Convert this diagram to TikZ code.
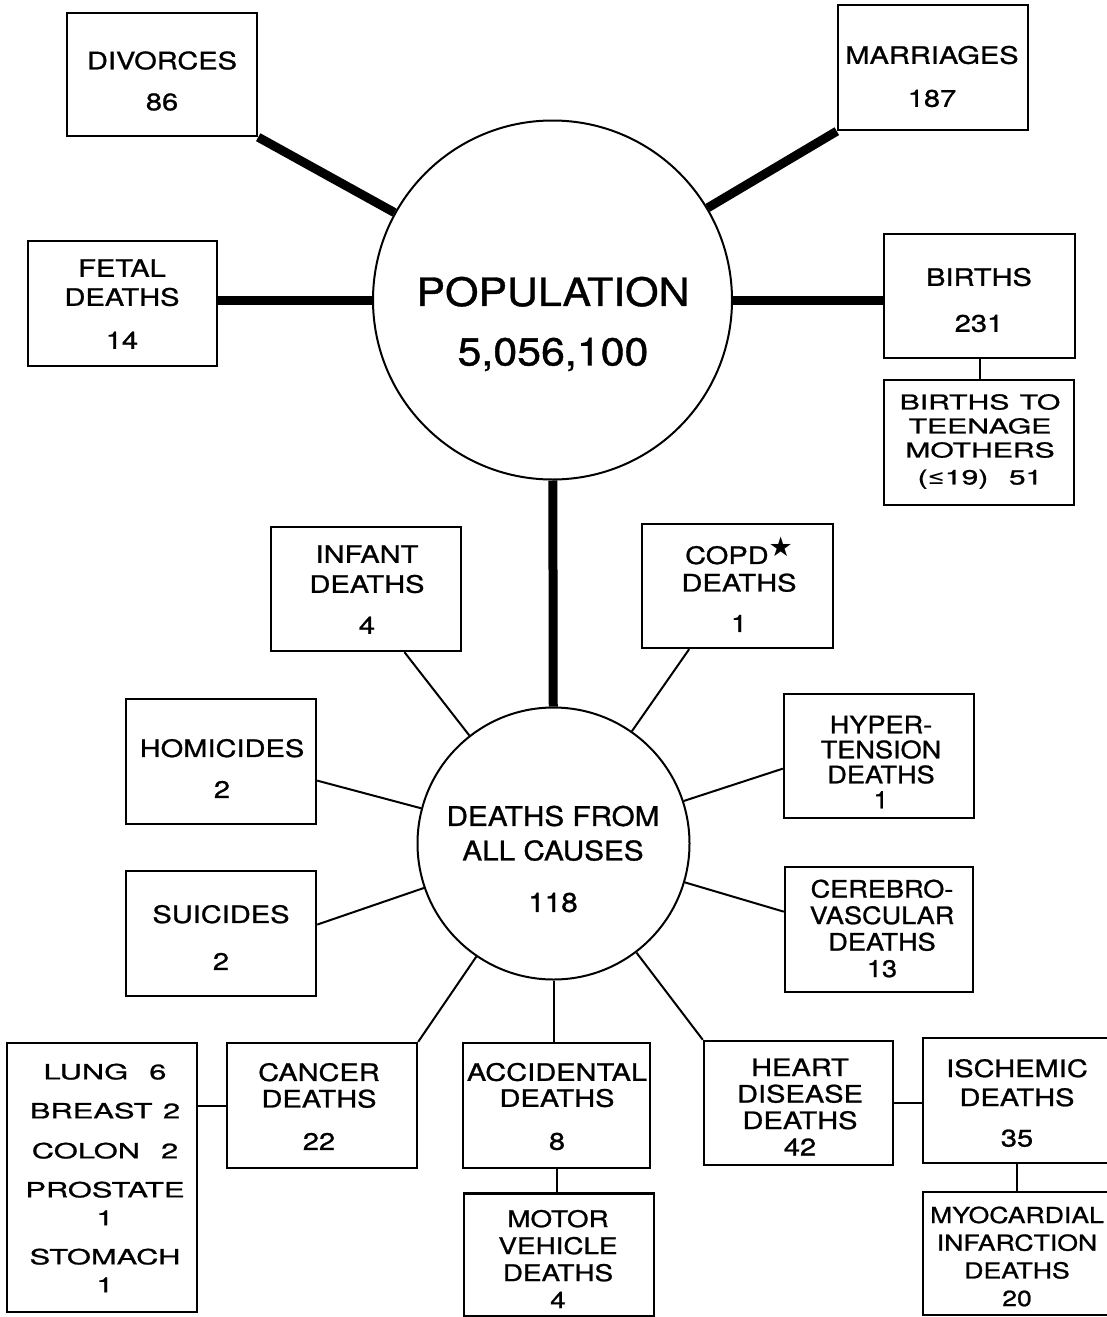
\documentclass[tikz,border=0pt]{standalone}
\usepackage{fontspec}
\setmainfont{TeX Gyre Heros}[FakeStretch=1.1, FakeBold=1]
\newfontfamily\boxfont{TeX Gyre Heros}[FakeStretch=1.21, FakeBold=1]
\newfontfamily\narrowfont{TeX Gyre Heros}[FakeStretch=1.13, FakeBold=1]
\newfontfamily\widefont{TeX Gyre Heros}[FakeStretch=1.47, FakeBold=1]
\newfontfamily\dvsym{DejaVu Sans}
\usetikzlibrary{calc,backgrounds}
\newcommand\FZ[2]{\fontsize{#1}{#2}\selectfont}
\tikzset{
  box/.style={draw, rectangle, line width=2.4pt, fill=white, inner sep=0pt, minimum width=190pt, minimum height=124pt},
  ring/.style={draw, circle, line width=2pt, fill=white, inner sep=0pt},
  txt/.style={align=center, inner sep=0pt},
  thicklink/.style={line width=9pt},
  thinlink/.style={line width=2pt}
}
\begin{document}
\begin{tikzpicture}[x=1pt,y=-1pt]
\useasboundingbox (0,0) rectangle (1107,1317);
% circles
\node[ring, minimum size=359pt] (pop) at (552.5,300) {};
\node[ring, minimum size=272pt] (dth) at (553.5,843.5) {};
% boxes
\node[box, minimum height=123pt] (div) at (162,74.5) {};
\node[box, minimum height=125pt] (mar) at (933,67.5) {};
\node[box, minimum width=189pt, minimum height=125pt] (fet) at (122.5,303.5) {};
\node[box, minimum width=191pt] (bir) at (979.5,296) {};
\node[box, minimum height=125pt] (teen) at (979,442.5) {};
\node[box] (inf) at (366,589) {};
\node[box, minimum width=191pt] (copd) at (737.5,586) {};
\node[box, minimum height=125pt] (hom) at (221,761.5) {};
\node[box] (hyp) at (879,756) {};
\node[box, minimum height=125pt] (sui) at (221,933.5) {};
\node[box, minimum width=188pt, minimum height=125pt] (cer) at (879,929.5) {};
\node[box, minimum height=269pt] (lung) at (102,1177.5) {};
\node[box, minimum height=125pt] (can) at (322,1105.5) {};
\node[box, minimum width=187pt, minimum height=125pt] (acc) at (556.5,1105.5) {};
\node[box, minimum height=123pt] (mot) at (559,1255) {};
\node[box, minimum width=189pt] (hea) at (798.5,1103) {};
\node[box, minimum width=187pt, minimum height=125pt] (isc) at (1016.5,1100.5) {};
\node[box, minimum width=187pt, minimum height=123pt] (myo) at (1016.5,1253.5) {};
% texts
\node[txt, font=\FZ{39}{59.5}] (popT) at (553,324) {POPULATION\\5,056,100};
\node[txt, font=\FZ{27}{34.5}] (dthT) at (553,859) {DEATHS FROM\\ALL CAUSES\\[17pt]118};
\node[txt, font=\boxfont\FZ{24}{41}] (divT) at (162,81) {DIVORCES\\86};
\node[txt, font=\boxfont\FZ{24}{43}] (marT) at (932,76.5) {MARRIAGES\\187};
\node[txt, font=\boxfont\FZ{24}{29}] (fetT) at (122,304) {FETAL\\DEATHS\\[14pt]14};
\node[txt, font=\boxfont\FZ{24}{46}] (birT) at (979,300) {BIRTHS\\231};
\node[txt, font=\widefont\FZ{20.5}{24}] (teenT) at (980,441.5) {BIRTHS\enspace TO\\TEENAGE\\MOTHERS\\[3pt]({\dvsym ≤}19)\quad 51};
\node[txt, font=\boxfont\FZ{24}{30}] (infT) at (367,589.5) {INFANT\\DEATHS\\[11pt]4};
\node[txt, font=\boxfont\FZ{24}{27.5}] (copdT) at (739,589) {COPD\smash{\raisebox{7pt}{\dvsym\FZ{27}{27}★}}\\DEATHS\\[13pt]1};
\node[txt, font=\boxfont\FZ{24}{41}] (homT) at (222,768.5) {HOMICIDES\\2};
\node[txt, font=\narrowfont\FZ{24}{25}] (hypT) at (881,762) {HYPER-\\TENSION\\DEATHS\\1};
\node[txt, font=\narrowfont\FZ{24}{26.5}] (cerT) at (882,928.5) {CEREBRO-\\VASCULAR\\DEATHS\\13};
\node[txt, font=\boxfont\FZ{24}{47}] (suiT) at (221,937.5) {SUICIDES\\2};
\node[txt, font=\widefont\FZ{21}{28}] (lungT) at (105,1178) {LUNG\quad 6\\[11pt]BREAST\enspace 2\\[12pt]COLON\quad 2\\[11pt]PROSTATE\\1\\[11pt]STOMACH\\1};
\node[txt, font=\boxfont\FZ{24}{26.5}] (canT) at (319,1106.5) {CANCER\\DEATHS\\[16pt]22};
\node[txt, font=\boxfont\FZ{24}{26}] (accT) at (557,1106.5) {ACCIDENTAL\\DEATHS\\[17pt]8};
\node[txt, font=\boxfont\FZ{23}{27}] (motT) at (558,1259) {MOTOR\\VEHICLE\\DEATHS\\4};
\node[txt, font=\boxfont\FZ{24}{26.5}] (heaT) at (800,1107) {HEART\\DISEASE\\DEATHS\\42};
\node[txt, font=\boxfont\FZ{24}{29}] (iscT) at (1017,1103) {ISCHEMIC\\DEATHS\\[11.5pt]35};
\node[txt, font=\boxfont\FZ{22}{27.7}] (myoT) at (1017,1256.5) {MYOCARDIAL\\INFARCTION\\DEATHS\\20};
% connectors
\begin{pgfonlayer}{background}
\draw[thicklink] (div.south east) -- (pop);
\draw[thicklink] (mar.south west) -- (pop);
\draw[thicklink] (fet.east |- pop) -- (pop);
\draw[thicklink] (bir.west |- pop) -- (pop);
\draw[thicklink] (pop) -- (dth);
\draw[thinlink] (dth) -- ($(inf.south)!0.4!(inf.south east)$);
\draw[thinlink] (dth) -- ($(copd.south)!0.5!(copd.south west)$);
\draw[thinlink] (dth) -- ($(hom.east)!0.3!(hom.south east)$);
\draw[thinlink] (dth) -- ($(hyp.west)!0.2!(hyp.south west)$);
\draw[thinlink] (dth) -- ($(sui.east)!0.14!(sui.north east)$);
\draw[thinlink] (dth) -- ($(cer.west)!0.28!(cer.north west)$);
\draw[thinlink] (dth) -- (can.north east);
\draw[thinlink] (dth) -- (dth |- acc.north);
\draw[thinlink] (dth) -- (hea.north west);
\draw[thinlink] (bir.south) -- (bir.south |- teen.north);
\draw[thinlink] (lung.east |- can.west) -- (can.west);
\draw[thinlink] (acc.south) -- (acc.south |- mot.north);
\draw[thinlink] (hea.east) -- (isc.west |- hea.east);
\draw[thinlink] (isc.south) -- (isc.south |- myo.north);
\end{pgfonlayer}
\end{tikzpicture}
\end{document}
